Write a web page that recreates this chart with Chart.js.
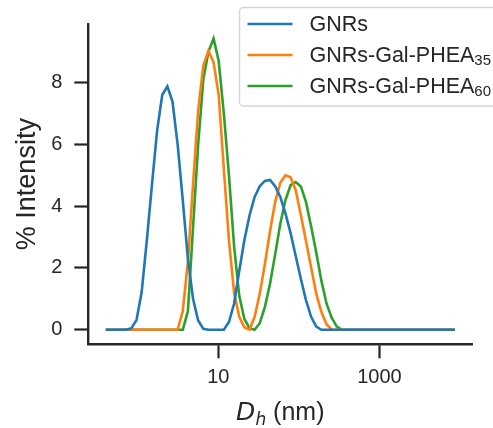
<!DOCTYPE html>
<html>
<head>
<meta charset="utf-8">
<script src="https://cdn.jsdelivr.net/npm/chart.js@4.4.0/dist/chart.umd.min.js"></script>
<style>
  html, body { margin: 0; padding: 0; background: #fff; }
</style>
</head>
<body>
<canvas id="chart" width="493" height="428"></canvas>
<script>
// hydrodynamic diameter bins (nm)
var sizes = [
  0.4, 0.4632, 0.5365, 0.6213, 0.7195, 0.8332, 0.9649, 1.117, 1.294, 1.499,
  1.736, 2.01, 2.328, 2.696, 3.122, 3.615, 4.187, 4.849, 5.615, 6.503,
  7.531, 8.721, 10.1, 11.7, 13.54, 15.69, 18.17, 21.04, 24.36, 28.21,
  32.67, 37.84, 43.82, 50.75, 58.77, 68.06, 78.82, 91.28, 105.7, 122.4,
  141.8, 164.2, 190.1, 220.2, 255, 295.3, 342, 396.1, 458.7, 531.2,
  615.1, 712.4, 825, 955.4, 1106, 1281, 1484, 1718, 1990, 2305,
  2669, 3091, 3580, 4145, 4801, 5560, 6439, 7456, 8635
]

// % intensity per bin
var gnrs = [
  0, 0, 0, 0, 0, 0.05, 0.32, 1.22, 2.89, 4.7,
  6.45, 7.6, 7.88, 7.39, 6.0, 4.2, 2.3, 1.0, 0.3, 0.03,
  0, 0, 0, 0, 0.25, 0.85, 1.9, 2.9, 3.7, 4.3,
  4.65, 4.82, 4.85, 4.65, 4.3, 3.77, 3.13, 2.39, 1.65, 0.96,
  0.42, 0.1, 0, 0, 0, 0, 0, 0, 0, 0,
  0, 0, 0, 0, 0, 0, 0, 0, 0, 0,
  0, 0, 0, 0, 0, 0, 0, 0, 0
]
var phea35 = [
  0, 0, 0, 0, 0, 0, 0, 0, 0, 0,
  0, 0, 0, 0, 0, 0.6, 2.2, 4.7, 7.1, 8.55,
  9.03, 8.66, 7.6, 5.2, 2.9, 1.2, 0.42, 0.08, 0, 0.42,
  1.17, 2.13, 3.19, 4.14, 4.76, 5.0, 4.94, 4.52, 3.72, 2.87,
  2.02, 1.17, 0.58, 0.18, 0, 0, 0, 0, 0, 0,
  0, 0, 0, 0, 0, 0, 0, 0, 0, 0,
  0, 0, 0, 0, 0, 0, 0, 0, 0
]
var phea60 = [
  0, 0, 0, 0, 0, 0, 0, 0, 0, 0,
  0, 0, 0, 0, 0, 0, 0.6, 3.3, 6.0, 8.1,
  9.0, 9.43, 8.7, 7.0, 5.0, 2.7, 1.1, 0.35, 0.05, 0,
  0.21, 0.74, 1.49, 2.44, 3.43, 4.2, 4.68, 4.78, 4.64, 4.14,
  3.35, 2.5, 1.59, 0.85, 0.39, 0.1, 0, 0, 0, 0,
  0, 0, 0, 0, 0, 0, 0, 0, 0, 0,
  0, 0, 0, 0, 0, 0, 0, 0, 0
]

var seriesNames = ['GNRs', 'GNRs-Gal-PHEA', 'GNRs-Gal-PHEA']
var seriesSubs = ['', '35', '60']
var seriesColours = ['#1f77b4', '#ff7f0e', '#2ca02c']
var xTicks = [10, 1000]
var yTicks = [0, 2, 4, 6, 8]

var ink = '#262626'
var fontName = '"Liberation Sans", Arial, sans-serif'

function toPoints (values) {
  var pts = []
  for (var i in sizes) pts.push({ x: sizes[i], y: values[i] })
  return pts
}

var allSeries = [gnrs, phea35, phea60]
var datasets = []
for (var s = 0; s < allSeries.length; s++) {
  datasets.push({
    label: seriesNames[s] + seriesSubs[s],
    data: toPoints(allSeries[s]),
    borderColor: seriesColours[s],
    borderWidth: 2.6,
    pointRadius: 0,
    tension: 0,
    fill: false
  })
}

// legend box in the upper right, with subscripts
var boxLegend = {
  id: 'boxLegend',
  afterDraw: function (chart) {
    var ctx = chart.ctx
    ctx.save()
    ctx.beginPath()
    ctx.roundRect(239.5, 7.5, 270, 98.5, 4)
    ctx.fillStyle = 'rgba(255,255,255,0.85)'
    ctx.fill()
    ctx.lineWidth = 1.5
    ctx.strokeStyle = '#d6d6d6'
    ctx.stroke()

    for (var i = 0; i < seriesNames.length; i++) {
      var y = 24 + i * 31
      ctx.beginPath()
      ctx.moveTo(247.5, y)
      ctx.lineTo(292.5, y)
      ctx.lineWidth = 2.6
      ctx.strokeStyle = seriesColours[i]
      ctx.stroke()

      ctx.fillStyle = ink
      ctx.textBaseline = 'middle'
      ctx.textAlign = 'left'
      ctx.font = '21.5px ' + fontName
      ctx.fillText(seriesNames[i], 309.5, y + 1)
      if (seriesSubs[i]) {
        var w = ctx.measureText(seriesNames[i]).width
        ctx.font = '15px ' + fontName
        ctx.fillText(seriesSubs[i], 309.5 + w, y + 6)
      }
    }
    ctx.restore()
  }
}

// x axis title: italic D with subscript h, then (nm)
var xTitle = {
  id: 'xTitle',
  afterDraw: function (chart) {
    var ctx = chart.ctx
    var area = chart.chartArea
    ctx.save()
    ctx.fillStyle = ink
    ctx.textBaseline = 'alphabetic'
    ctx.textAlign = 'left'
    var big = 'italic 25px "DejaVu Sans", sans-serif'
    var sub = 'italic 17px "DejaVu Sans", sans-serif'
    var rest = '25px ' + fontName
    ctx.font = big
    var wD = ctx.measureText('D').width
    ctx.font = sub
    var wh = ctx.measureText('h').width
    ctx.font = rest
    var wr = ctx.measureText(' (nm)').width
    var x = (area.left + area.right) / 2 - (wD + wh + wr) / 2
    var base = 420
    ctx.font = big
    ctx.fillText('D', x, base)
    ctx.font = sub
    ctx.fillText('h', x + wD, base + 5)
    ctx.font = rest
    ctx.fillText(' (nm)', x + wD + wh, base)
    ctx.restore()
  }
}

new Chart(document.getElementById('chart'), {
  type: 'line',
  data: { datasets: datasets },
  plugins: [boxLegend, xTitle],
  options: {
    responsive: false,
    animation: false,
    layout: { padding: { top: 19.3, right: 20.7, left: 0, bottom: 0 } },
    plugins: {
      legend: { display: false },
      tooltip: { enabled: false }
    },
    scales: {
      x: {
        type: 'logarithmic',
        min: 0.2428,
        max: 14220,
        afterFit: function (scale) { scale.height = 83.7 },
        afterBuildTicks: function (scale) {
          scale.ticks = xTicks.map(function (v) { return { value: v } })
        },
        ticks: {
          color: ink,
          padding: 7,
          autoSkip: false,
          maxRotation: 0,
          font: { family: fontName, size: 20 },
          callback: function (v) { return String(v) }
        },
        grid: { display: true, drawOnChartArea: false, drawTicks: true, tickLength: 14, tickWidth: 2.2, tickColor: ink },
        border: { display: true, color: ink, width: 2.4 }
      },
      y: {
        type: 'linear',
        min: -0.4715,
        max: 9.9,
        afterFit: function (scale) { scale.width = 88.3 },
        afterBuildTicks: function (scale) {
          scale.ticks = yTicks.map(function (v) { return { value: v } })
        },
        ticks: {
          color: ink,
          padding: 12,
          font: { family: fontName, size: 20 },
          callback: function (v) { return String(v) }
        },
        title: {
          display: true,
          text: '% Intensity',
          color: ink,
          font: { family: fontName, size: 27 },
          padding: { top: 11, bottom: 0 }
        },
        grid: { display: true, drawOnChartArea: false, drawTicks: true, tickLength: 14, tickWidth: 2.2, tickColor: ink },
        border: { display: true, color: ink, width: 2.4 }
      }
    }
  }
})
</script>
</body>
</html>
